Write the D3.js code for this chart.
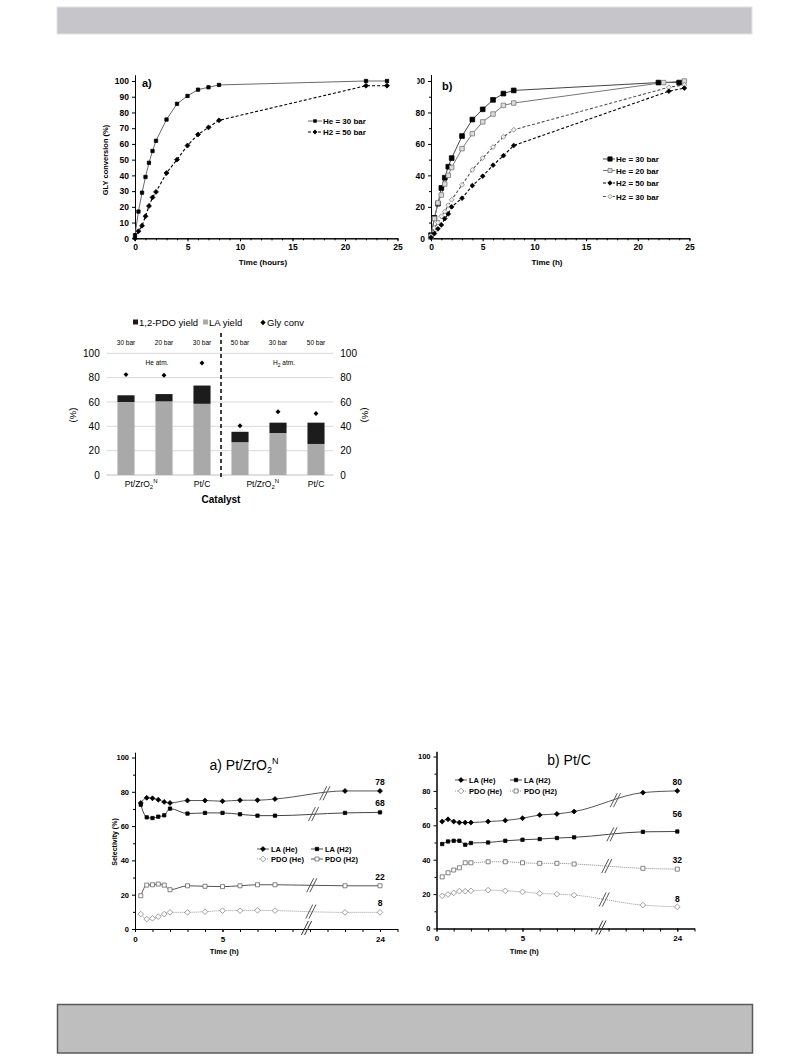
<!DOCTYPE html>
<meta charset="UTF-8">
<html>
<head>
<script src="https://d3js.org/d3.v7.min.js"></script>
<style>
body { margin: 0; background: #fff; }
svg text { font-family: "Liberation Sans", Arial, sans-serif; fill: #000; }
.Bold text, text.Bold { font-weight: bold; }
.Axis path, .Axis line { stroke: #000; }
</style>
</head>
<body>
<svg id="Page" width="793" height="1057"></svg>
<script>
// ---------- data ----------
// a) GLY conversion vs time
var timeA = [0, 0.33, 0.67, 1, 1.33, 1.67, 2, 3, 4, 5, 6, 7, 8, 22, 24];
var convHe30A = [2, 17, 29, 39, 48, 55.5, 62, 75.5, 85.5, 90.5, 94.5, 96, 97.5, 100, 100];
var convH250A = [0, 4.5, 8, 14, 20.5, 26, 29.5, 41.5, 50, 59, 66, 70.5, 75, 97, 97];

// b) GLY conversion vs time
var timeHe30B = [0, 0.33, 0.67, 1, 1.33, 1.67, 2, 3, 4, 5, 6, 7, 8, 22, 24];
var convHe30B = [2, 13, 22, 32, 38.5, 45.5, 51, 65, 75.5, 82, 88, 92, 94, 99, 99];
var timeHe20B = [0, 0.33, 0.67, 1, 1.33, 1.67, 2, 3, 4, 5, 6, 7, 8, 22.5, 24.5];
var convHe20B = [1, 12.5, 22.5, 27.5, 34.5, 40, 45, 57, 66.5, 74, 79, 84.5, 86, 99, 100];
var timeH2B = [0, 0.33, 0.67, 1, 1.33, 1.67, 2, 3, 4, 5, 6, 7, 8, 23, 24.5];
var convH250B = [0.5, 3, 6, 8.5, 12.5, 15.5, 20, 25.5, 33.5, 39.5, 46.5, 52.5, 59, 93.5, 95.5];
var convH230B = [1.5, 6.5, 10, 14, 17, 21, 24.5, 34, 43.5, 51, 58, 64.5, 69, 96, 97.5];

// bar chart
var barPressure = ["30 bar", "20 bar", "30 bar", "50 bar", "30 bar", "50 bar"];
var laYield = [60, 60.5, 58.5, 27, 34.5, 25.5];
var pdoYield = [5.5, 6, 15, 8.5, 8.5, 17.5];
var glyConv = [82.5, 82, 92, 40.5, 52, 50.5];
var catLabels = ["Pt/ZrO2N", "Pt/C", "Pt/ZrO2N", "Pt/C"];
var catAt = [0.4, 2, 3.6, 5];

// selectivity charts
var timeSel = [0.33, 0.67, 1, 1.33, 1.67, 2, 3, 4, 5, 6, 7, 8, 22, 24];
var laHeZr = [73.5, 76.5, 76.2, 75.4, 74.1, 73.5, 74.9, 74.9, 74.5, 75.1, 75.1, 75.8, 80.5, 80.5];
var laH2Zr = [72.5, 65.1, 64.7, 65.5, 66.3, 70.2, 67.3, 67.7, 67.7, 66.9, 66.1, 66.1, 67.7, 68];
var pdoHeZr = [8.7, 5.8, 6.2, 7.2, 8.7, 9.7, 9.7, 10.1, 10.7, 10.7, 10.9, 10.7, 9.7, 9.7];
var pdoH2Zr = [19.4, 25.6, 25.8, 26.2, 25.6, 22.9, 25.2, 24.9, 24.7, 25.2, 25.8, 25.8, 25.2, 25.2];
var endLabelsZr = ["78", "68", "8", "22"];

var laHeC = [62.2, 63.5, 62.2, 61.6, 61.6, 61.6, 62.2, 62.8, 64.1, 66, 66.6, 68, 79, 80];
var laH2C = [49.1, 50.6, 51, 51, 48.7, 49.7, 50, 51, 51.6, 52, 52.6, 53, 56.2, 56.4];
var pdoHeC = [19, 19.8, 20.7, 21.7, 21.7, 21.9, 22.3, 21.9, 21.3, 20.4, 20, 19.4, 13.6, 12.6];
var pdoH2C = [30, 32.4, 34, 35.3, 38.2, 38.2, 38.8, 38.8, 38.2, 37.9, 37.9, 37.5, 35, 34.5];
var endLabelsC = ["80", "56", "8", "32"];

var selTickTimes = [0, 5, 24];
var selTickLabels = ["0", "5", "24"];

var Page = d3.select("#Page");

// square diamond (d3.symbolDiamond is too tall)
var symbolRhomb = {
	draw: function(ctx, size)
	{
		var r = Math.sqrt(size / 2);
		ctx.moveTo(0, -r); ctx.lineTo(r, 0); ctx.lineTo(0, r); ctx.lineTo(-r, 0); ctx.closePath();
	}
};

// page frames
Page.append("rect").attr("x", 57).attr("y", 7).attr("width", 695).attr("height", 27)
	.attr("fill", "#c6c6ca").attr("stroke", "#e2e2e5");
Page.append("rect").attr("x", 57.5).attr("y", 1004.5).attr("width", 695).attr("height", 48.5)
	.attr("fill", "#bebebe").attr("stroke", "#5a5a5a").attr("stroke-width", 1.5);

function styleAxis(g, size)
{
	g.attr("class", "Axis Bold");
	g.selectAll("text").style("font-size", size + "px");
	g.selectAll("path,line").attr("stroke", "#000");
}

function markers(g, xs, ys, xScale, yScale, type, size, fill, stroke)
{
	g.selectAll(null).data(ys).enter().append("path")
		.attr("d", d3.symbol().type(type).size(size))
		.attr("transform", function(d, i){ return "translate(" + xScale(xs[i]) + "," + yScale(d) + ")"; })
		.attr("fill", fill).attr("stroke", stroke).attr("stroke-width", 0.8);
}

function series(g, xs, ys, xScale, yScale, color, dash, width, curve)
{
	var line = d3.line()
		.x(function(d, i){ return xScale(xs[i]); })
		.y(function(d){ return yScale(d); });
	if (curve) line.curve(curve);
	g.append("path").datum(ys).attr("d", line)
		.attr("fill", "none").attr("stroke", color).attr("stroke-width", width || 1)
		.attr("stroke-dasharray", dash || null);
}

// ---------- chart a ----------
var gA = Page.append("g");
var xA = d3.scaleLinear().domain([0, 25]).range([135, 397.5]);
var yA = d3.scaleLinear().domain([0, 100]).range([238.3, 81]);
var yAaxis = yA.copy().domain([0, 104]).range([238.3, yA(104)]);

gA.append("g").attr("transform", "translate(0,238.3)")
	.call(d3.axisBottom(xA).tickValues(d3.range(0, 26)).tickSize(2).tickSizeOuter(0).tickFormat(""))
	.call(styleAxis, 8);
gA.append("g").attr("transform", "translate(0,238.3)")
	.call(d3.axisBottom(xA).tickValues([0, 5, 10, 15, 20, 25]).tickSize(3).tickSizeOuter(0).tickPadding(3))
	.call(styleAxis, 8.5);
gA.append("g").attr("transform", "translate(135,0)")
	.call(d3.axisLeft(yAaxis).tickValues(d3.range(0, 101, 10)).tickSize(3).tickSizeOuter(0).tickPadding(3))
	.call(styleAxis, 8.5);

series(gA, timeA, convHe30A, xA, yA, "#6a6a6a", null, 1);
series(gA, timeA, convH250A, xA, yA, "#000", "3,2", 1.1);
markers(gA, timeA, convHe30A, xA, yA, d3.symbolSquare, 11, "#000", "#000");
markers(gA, timeA, convH250A, xA, yA, symbolRhomb, 12, "#000", "#000");

gA.append("text").attr("class", "Bold").attr("x", 142).attr("y", 87).style("font-size", "11px").text("a)");
gA.append("text").attr("class", "Bold").attr("text-anchor", "middle")
	.attr("transform", "translate(108,160) rotate(-90)").style("font-size", "7.5px").text("GLY conversion (%)");
gA.append("text").attr("class", "Bold").attr("text-anchor", "middle")
	.attr("x", 263).attr("y", 265).style("font-size", "8px").text("Time (hours)");

var legA = [
	{name: "He = 30 bar", y: 121, color: "#6a6a6a", dash: null, sym: d3.symbolSquare},
	{name: "H2 = 50 bar", y: 132, color: "#000", dash: "3,2", sym: symbolRhomb}
];
legA.forEach(function(L)
{
	gA.append("line").attr("x1", 308).attr("x2", 322).attr("y1", L.y).attr("y2", L.y)
		.attr("stroke", L.color).attr("stroke-dasharray", L.dash);
	gA.append("path").attr("d", d3.symbol().type(L.sym).size(12)).attr("transform", "translate(315," + L.y + ")");
	gA.append("text").attr("class", "Bold").attr("x", 323).attr("y", L.y + 3).style("font-size", "8px").text(L.name);
});

// ---------- chart b ----------
var gB = Page.append("g");
var xB = d3.scaleLinear().domain([0, 25]).range([431, 689.5]);
var yB = d3.scaleLinear().domain([0, 100]).range([238.3, 81]);
var yBaxis = yB.copy().domain([0, 104]).range([238.3, yB(104)]);

gB.append("g").attr("transform", "translate(0,238.3)")
	.call(d3.axisBottom(xB).tickValues(d3.range(0, 26)).tickSize(2).tickSizeOuter(0).tickFormat(""))
	.call(styleAxis, 8);
gB.append("g").attr("transform", "translate(0,238.3)")
	.call(d3.axisBottom(xB).tickValues([0, 5, 10, 15, 20, 25]).tickSize(3).tickSizeOuter(0).tickPadding(3))
	.call(styleAxis, 8.5);
gB.append("g").attr("transform", "translate(431,0)")
	.call(d3.axisLeft(yBaxis).tickValues(d3.range(10, 101, 20)).tickSize(2).tickSizeOuter(0).tickFormat(""))
	.call(styleAxis, 8);
var yBticks = gB.append("g").attr("transform", "translate(431,0)")
	.call(d3.axisLeft(yBaxis).tickValues(d3.range(0, 101, 20)).tickSize(3).tickSizeOuter(0).tickPadding(3))
	.call(styleAxis, 8.5);
// the source figure is cropped through the "1" of 100
gB.append("clipPath").attr("id", "ClipB100").append("rect")
	.attr("x", 417.3 - 431).attr("y", -20).attr("width", 40).attr("height", 40);
yBticks.selectAll(".tick text").filter(function(d){ return d === 100; }).attr("clip-path", "url(#ClipB100)");

series(gB, timeHe30B, convHe30B, xB, yB, "#444", null, 1);
series(gB, timeHe20B, convHe20B, xB, yB, "#777", null, 1);
series(gB, timeH2B, convH230B, xB, yB, "#555", "3,2", 1.1);
series(gB, timeH2B, convH250B, xB, yB, "#000", "3,2", 1.1);
markers(gB, timeHe30B, convHe30B, xB, yB, d3.symbolSquare, 22, "#000", "#000");
markers(gB, timeHe20B, convHe20B, xB, yB, d3.symbolSquare, 20, "#ddd", "#777");
markers(gB, timeH2B, convH230B, xB, yB, symbolRhomb, 12, "#eee", "#888");
markers(gB, timeH2B, convH250B, xB, yB, symbolRhomb, 11, "#000", "#000");

gB.append("text").attr("class", "Bold").attr("x", 442).attr("y", 90).style("font-size", "11px").text("b)");
gB.append("text").attr("class", "Bold").attr("text-anchor", "middle")
	.attr("x", 547).attr("y", 265).style("font-size", "8px").text("Time (h)");

var legB = [
	{name: "He = 30 bar", y: 159, color: "#444", dash: null, sym: d3.symbolSquare, fill: "#000", stroke: "#000", size: 18},
	{name: "He = 20 bar", y: 170.5, color: "#777", dash: null, sym: d3.symbolSquare, fill: "#ddd", stroke: "#777", size: 16},
	{name: "H2 = 50 bar", y: 183, color: "#000", dash: "3,2", sym: symbolRhomb, fill: "#000", stroke: "#000", size: 10},
	{name: "H2 = 30 bar", y: 196.5, color: "#555", dash: "3,2", sym: symbolRhomb, fill: "#eee", stroke: "#888", size: 10}
];
legB.forEach(function(L)
{
	gB.append("line").attr("x1", 603).attr("x2", 615).attr("y1", L.y).attr("y2", L.y)
		.attr("stroke", L.color).attr("stroke-dasharray", L.dash);
	gB.append("path").attr("d", d3.symbol().type(L.sym).size(L.size)).attr("transform", "translate(610," + L.y + ")")
		.attr("fill", L.fill).attr("stroke", L.stroke).attr("stroke-width", 0.8);
	gB.append("text").attr("class", "Bold").attr("x", 616).attr("y", L.y + 3).style("font-size", "8px").text(L.name);
});

// ---------- bar chart ----------
var gC = Page.append("g");
var xC = d3.scaleBand().domain(d3.range(6)).range([107, 335]).paddingInner(0.55).paddingOuter(0.275);
var yC = d3.scaleLinear().domain([0, 100]).range([475, 353.3]);

gC.selectAll(".Grid").data([20, 40, 60, 80, 100]).enter().append("line")
	.attr("x1", 106.7).attr("x2", 333.3).attr("y1", yC).attr("y2", yC)
	.attr("stroke", "#d9d9d9").attr("stroke-width", 1);
gC.append("line").attr("x1", 106.7).attr("x2", 333.3).attr("y1", yC(0)).attr("y2", yC(0))
	.attr("stroke", "#bfbfbf").attr("stroke-width", 1);

var axL = gC.append("g").attr("transform", "translate(106.7,0)")
	.call(d3.axisLeft(yC).tickValues(d3.range(0, 101, 20)).tickSize(0).tickPadding(7));
var axR = gC.append("g").attr("transform", "translate(333.3,0)")
	.call(d3.axisRight(yC).tickValues(d3.range(0, 101, 20)).tickSize(0).tickPadding(7));
[axL, axR].forEach(function(a)
{
	a.select(".domain").remove();
	a.selectAll("text").style("font-size", "10px").attr("fill", "#222");
});

gC.selectAll(".La").data(laYield).enter().append("rect")
	.attr("x", function(d, i){ return xC(i); }).attr("width", xC.bandwidth())
	.attr("y", function(d){ return yC(d); }).attr("height", function(d){ return yC(0) - yC(d); })
	.attr("fill", "#a9a9a9");
gC.selectAll(".Pdo").data(pdoYield).enter().append("rect")
	.attr("x", function(d, i){ return xC(i); }).attr("width", xC.bandwidth())
	.attr("y", function(d, i){ return yC(laYield[i] + d); }).attr("height", function(d){ return yC(0) - yC(d); })
	.attr("fill", "#1c1c1c");
gC.selectAll(".Gly").data(glyConv).enter().append("path")
	.attr("d", d3.symbol().type(symbolRhomb).size(12))
	.attr("transform", function(d, i){ return "translate(" + (xC(i) + xC.bandwidth() / 2) + "," + yC(d) + ")"; })
	.attr("fill", "#000");

gC.selectAll(".Press").data(barPressure).enter().append("text")
	.attr("x", function(d, i){ return xC(i) + xC.bandwidth() / 2; }).attr("y", 344.5)
	.attr("text-anchor", "middle").style("font-size", "6.5px").attr("fill", "#222").text(function(d){ return d; });

var midX = (xC(2) + xC(3) + xC.bandwidth()) / 2;
gC.append("line").attr("x1", midX).attr("x2", midX).attr("y1", 333).attr("y2", 477)
	.attr("stroke", "#000").attr("stroke-width", 1.5).attr("stroke-dasharray", "4,3");

gC.append("text").attr("x", 157).attr("y", 365).attr("text-anchor", "middle")
	.style("font-size", "6.5px").attr("fill", "#222").text("He atm.");
var h2t = gC.append("text").attr("x", 284).attr("y", 365).attr("text-anchor", "middle")
	.style("font-size", "6.5px").attr("fill", "#222");
h2t.append("tspan").text("H");
h2t.append("tspan").attr("dy", 1.5).style("font-size", "5px").text("2");
h2t.append("tspan").attr("dy", -1.5).text(" atm.");

catLabels.forEach(function(c, k)
{
	var cx = xC(0) + xC.bandwidth() / 2 + catAt[k] * xC.step();
	var t = gC.append("text").attr("x", cx).attr("y", 487).attr("text-anchor", "middle")
		.style("font-size", "8.5px").attr("fill", "#222");
	if (c === "Pt/ZrO2N")
	{
		t.append("tspan").text("Pt/ZrO");
		t.append("tspan").attr("dy", 2).style("font-size", "6px").text("2");
		t.append("tspan").attr("dy", -6).style("font-size", "6px").text("N");
	}
	else
	{
		t.text(c);
	}
});
gC.append("text").attr("class", "Bold").attr("x", 221).attr("y", 503).attr("text-anchor", "middle")
	.style("font-size", "10px").attr("fill", "#222").text("Catalyst");
gC.append("text").attr("transform", "translate(76,415) rotate(-90)").attr("text-anchor", "middle")
	.style("font-size", "9.5px").attr("fill", "#222").text("(%)");
gC.append("text").attr("transform", "translate(362,415) rotate(90)").attr("text-anchor", "middle")
	.style("font-size", "9.5px").attr("fill", "#222").text("(%)");

// legend
gC.append("rect").attr("x", 133).attr("y", 319.5).attr("width", 5).attr("height", 5).attr("fill", "#1c1c1c");
gC.append("text").attr("x", 139).attr("y", 326).style("font-size", "9.5px").attr("fill", "#222").text("1,2-PDO yield");
gC.append("rect").attr("x", 203).attr("y", 319.5).attr("width", 5).attr("height", 5).attr("fill", "#a9a9a9");
gC.append("text").attr("x", 209).attr("y", 326).style("font-size", "9.5px").attr("fill", "#222").text("LA yield");
gC.append("path").attr("d", d3.symbol().type(symbolRhomb).size(14)).attr("transform", "translate(263,322.5)");
gC.append("text").attr("x", 267).attr("y", 326).style("font-size", "9.5px").attr("fill", "#222").text("Gly conv");

// ---------- selectivity charts ----------
var timeToPos = d3.scaleLinear().domain([0, 8, 22, 24]).range([0, 8, 12, 14]);

function breakMark(g, cx, cy, color)
{
	[-1.6, 1.6].forEach(function(o)
	{
		g.append("line").attr("x1", cx + o - 3.5).attr("y1", cy + 7).attr("x2", cx + o + 3.5).attr("y2", cy - 7)
			.attr("stroke", color).attr("stroke-width", 1);
	});
}

function selChart(o)
{
	var g = Page.append("g");
	var x = d3.scaleLinear().domain([0, 15]).range([o.x0, o.x0 + 15 * o.unit]);
	var y = d3.scaleLinear().domain([0, 100]).range([o.y0, o.y100]);
	var yAx = y.copy().domain([0, 103]).range([o.y0, y(103)]);
	var xt = function(t){ return x(timeToPos(t)); };

	g.append("g").attr("transform", "translate(0," + o.y0 + ")")
		.call(d3.axisBottom(x).tickValues(d3.range(0, 16)).tickSize(3).tickSizeOuter(0).tickFormat(""))
		.call(styleAxis, 8);
	g.append("g").attr("transform", "translate(0," + o.y0 + ")")
		.call(d3.axisBottom(x).tickValues(selTickTimes.map(timeToPos)).tickSize(3).tickSizeOuter(0).tickPadding(4)
			.tickFormat(function(d, i){ return selTickLabels[i]; }))
		.call(styleAxis, 8);
	g.append("g").attr("transform", "translate(" + o.x0 + ",0)")
		.call(d3.axisLeft(yAx).tickValues(d3.range(10, 101, 20)).tickSize(2).tickSizeOuter(0).tickFormat(""))
		.call(styleAxis, 7.5);
	g.append("g").attr("transform", "translate(" + o.x0 + ",0)")
		.call(d3.axisLeft(yAx).tickValues(d3.range(0, 101, 20)).tickSize(3).tickSizeOuter(0).tickPadding(3))
		.call(styleAxis, 7.5);

	var st = [
		{v: o.laHe, color: "#555", dash: null, sym: symbolRhomb, size: 12, fill: "#000", stroke: "#000"},
		{v: o.laH2, color: "#444", dash: null, sym: d3.symbolSquare, size: 11, fill: "#000", stroke: "#000"},
		{v: o.pdoHe, color: "#999", dash: "1,1", sym: symbolRhomb, size: 16, fill: "#fff", stroke: "#888"},
		{v: o.pdoH2, color: o.pdoH2Color, dash: o.pdoH2Dash, sym: d3.symbolSquare, size: 16, fill: "#fff", stroke: "#666"}
	];
	st.forEach(function(s, k)
	{
		series(g, timeSel, s.v, xt, y, s.color, s.dash, 1, d3.curveMonotoneX);
		markers(g, timeSel, s.v, xt, y, s.sym, s.size, s.fill, s.stroke);
		// break on each curve between 8 h and 22 h
		var p = o.breaks[k];
		var v8 = s.v[11], v22 = s.v[12];
		breakMark(g, x(p), y(v8 + (v22 - v8) * (p - 8) / 4), "#555");
		g.append("text").attr("class", "Bold").attr("x", x(14)).attr("y", y(s.v[13]) + o.labelDy[k])
			.attr("text-anchor", "middle").style("font-size", "8.5px").text(o.endLabels[k]);
	});
	breakMark(g, x(o.axisBreak), o.y0 - 1, "#333");

	// legend
	var leg = [
		{name: "LA (He)", x: o.legX[0], y: o.legY[0], s: st[0]},
		{name: "LA (H2)", x: o.legX[1], y: o.legY[0], s: st[1]},
		{name: "PDO (He)", x: o.legX[0], y: o.legY[1], s: st[2]},
		{name: "PDO (H2)", x: o.legX[1], y: o.legY[1], s: st[3]}
	];
	leg.forEach(function(L)
	{
		g.append("line").attr("x1", L.x).attr("x2", L.x + 12).attr("y1", L.y).attr("y2", L.y)
			.attr("stroke", L.s.color).attr("stroke-dasharray", L.s.dash);
		g.append("path").attr("d", d3.symbol().type(L.s.sym).size(L.s.size)).attr("transform", "translate(" + (L.x + 6) + "," + L.y + ")")
			.attr("fill", L.s.fill).attr("stroke", L.s.stroke).attr("stroke-width", 0.8);
		g.append("text").attr("class", "Bold").attr("x", L.x + 14).attr("y", L.y + 3).style("font-size", "7.5px")
			.attr("fill", "#222").text(L.name);
	});

	g.append("text").attr("class", "Bold").attr("x", x(5.1)).attr("y", o.y0 + 25).attr("text-anchor", "middle")
		.style("font-size", "7.5px").text("Time (h)");
	return g;
}

var gD = selChart({
	x0: 135, unit: 17.5, y0: 929, y100: 757.5,
	laHe: laHeZr, laH2: laH2Zr, pdoHe: pdoHeZr, pdoH2: pdoH2Zr,
	pdoH2Color: "#555", pdoH2Dash: null,
	breaks: [10.85, 10.2, 10.05, 10.1], axisBreak: 9.8,
	endLabels: endLabelsZr, labelDy: [-6, -6.4, -6.7, -5.5],
	legX: [257, 311], legY: [849, 859]
});
gD.append("text").attr("class", "Bold").attr("transform", "translate(117,842) rotate(-90)").attr("text-anchor", "middle")
	.style("font-size", "7px").text("Selectivity (%)");
var tD = gD.append("text").attr("x", 244).attr("y", 770).attr("text-anchor", "middle").style("font-size", "14px");
tD.append("tspan").text("a) Pt/ZrO");
tD.append("tspan").attr("dy", 3).style("font-size", "9px").text("2");
tD.append("tspan").attr("dy", -9).style("font-size", "9px").text("N");

var gE = selChart({
	x0: 436.5, unit: 17.2, y0: 928.5, y100: 756.5,
	laHe: laHeC, laH2: laH2C, pdoHe: pdoHeC, pdoH2: pdoH2C,
	pdoH2Color: "#888", pdoH2Dash: "1,1",
	breaks: [10.4, 10.2, 9.75, 9.9], axisBreak: 9.56,
	endLabels: endLabelsC, labelDy: [-5.6, -14.7, -4.5, -6.2],
	legX: [455, 510], legY: [780, 791]
});
gE.append("text").attr("x", 569).attr("y", 765).attr("text-anchor", "middle").style("font-size", "14px").text("b) Pt/C");
</script>
</body>
</html>
